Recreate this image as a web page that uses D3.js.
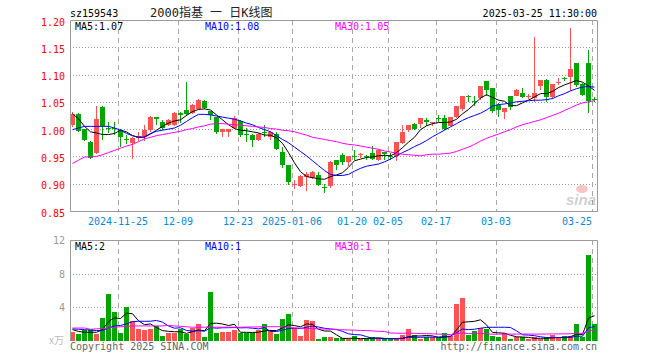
<!DOCTYPE html>
<html>
<head>
<meta charset="utf-8">
<script src="https://cdn.jsdelivr.net/npm/d3@7"></script>
<style>
body { margin: 0; background: #fff; }
svg { display: block; font-family: "DejaVu Sans Mono", "Liberation Mono", monospace; }
</style>
</head>
<body>
<svg id="chart" width="660" height="360"></svg>
<script>
// trading days shown on the chart
const DATES = [
  '2024-11-13','2024-11-14','2024-11-15','2024-11-18','2024-11-19','2024-11-20','2024-11-21','2024-11-22','2024-11-25','2024-11-26','2024-11-27','2024-11-28','2024-11-29',
  '2024-12-02','2024-12-03','2024-12-04','2024-12-05','2024-12-06','2024-12-09','2024-12-10','2024-12-11','2024-12-12','2024-12-13','2024-12-16','2024-12-17','2024-12-18','2024-12-19','2024-12-20','2024-12-23','2024-12-24','2024-12-25','2024-12-26','2024-12-27','2024-12-30','2024-12-31',
  '2025-01-02','2025-01-03','2025-01-06','2025-01-07','2025-01-08','2025-01-09','2025-01-10','2025-01-13','2025-01-14','2025-01-15','2025-01-16','2025-01-17','2025-01-20','2025-01-21','2025-01-22','2025-01-23','2025-01-24','2025-01-27',
  '2025-02-05','2025-02-06','2025-02-07','2025-02-10','2025-02-11','2025-02-12','2025-02-13','2025-02-14','2025-02-17','2025-02-18','2025-02-19','2025-02-20','2025-02-21','2025-02-24','2025-02-25','2025-02-26','2025-02-27','2025-02-28',
  '2025-03-03','2025-03-04','2025-03-05','2025-03-06','2025-03-07','2025-03-10','2025-03-11','2025-03-12','2025-03-13','2025-03-14','2025-03-17','2025-03-18','2025-03-19','2025-03-20','2025-03-21','2025-03-24','2025-03-25'
];

const OPEN = [
  1.008,1.028,1.000,0.977,0.957,1.041,1.003,1.003,0.999,0.982,
  0.975,0.983,0.987,0.998,1.022,1.014,1.008,1.008,1.030,1.035,
  1.029,1.037,1.051,1.033,1.022,0.994,0.995,1.002,1.015,0.992,
  0.989,0.980,0.994,0.985,0.991,0.958,0.934,0.899,0.896,0.913,
  0.910,0.916,0.894,0.896,0.943,0.953,0.940,0.950,0.952,0.951,
  0.956,0.943,0.958,0.951,0.950,0.974,0.998,1.009,1.009,1.017,
  1.011,1.021,1.021,1.006,1.022,1.036,1.061,1.051,1.057,1.088,
  1.075,1.044,1.032,1.060,1.061,1.067,1.060,1.057,1.079,1.090,
  1.058,1.084,1.094,1.096,1.122,1.083,1.122,1.055
];
const HIGH = [
  1.031,1.029,1.001,0.978,1.043,1.042,1.013,1.014,1.000,0.990,
  0.986,0.995,1.008,1.025,1.023,1.017,1.018,1.032,1.032,1.087,
  1.046,1.055,1.053,1.034,1.023,1.001,1.001,1.024,1.017,1.002,
  0.991,0.993,1.008,0.997,0.994,0.967,0.935,0.906,0.916,0.921,
  0.924,0.922,0.900,0.941,0.944,0.956,0.951,0.961,0.956,0.953,
  0.969,0.963,0.958,0.956,0.977,1.008,1.008,1.012,1.020,1.020,
  1.014,1.026,1.026,1.022,1.042,1.061,1.063,1.061,1.079,1.088,
  1.075,1.047,1.039,1.060,1.073,1.075,1.064,1.168,1.090,1.091,
  1.083,1.093,1.096,1.185,1.122,1.084,1.145,1.058
];
const LOW = [
  1.004,0.995,0.978,0.945,0.955,0.980,0.993,0.990,0.967,0.972,
  0.945,0.978,0.978,0.995,1.008,0.999,1.005,1.006,1.011,1.024,
  1.027,1.035,1.036,1.017,0.992,0.986,0.986,1.000,0.985,0.977,
  0.967,0.979,0.985,0.980,0.961,0.928,0.898,0.890,0.894,0.886,
  0.908,0.895,0.883,0.893,0.925,0.934,0.933,0.944,0.947,0.944,
  0.944,0.942,0.944,0.944,0.942,0.973,0.994,0.998,1.002,1.006,
  1.006,1.014,0.999,1.005,1.020,1.034,1.049,1.042,1.053,1.061,
  1.029,1.023,1.018,1.035,1.060,1.057,1.055,1.049,1.072,1.050,
  1.055,1.081,1.089,1.069,1.078,1.060,1.030,1.050
];
const CLOSE = [
  1.028,0.997,0.980,0.947,1.018,1.005,1.001,1.000,0.985,0.980,
  0.984,0.987,0.998,1.022,1.019,1.002,1.017,1.029,1.026,1.028,
  1.044,1.053,1.038,1.026,0.994,1.000,1.000,1.020,0.990,0.989,
  0.980,0.992,0.993,0.995,0.963,0.934,0.904,0.900,0.914,0.918,
  0.922,0.898,0.893,0.939,0.934,0.940,0.951,0.949,0.954,0.949,
  0.945,0.962,0.954,0.950,0.977,0.994,1.008,1.001,1.020,1.014,
  1.014,1.019,1.000,1.022,1.042,1.061,1.059,1.050,1.079,1.071,
  1.034,1.035,1.039,1.041,1.072,1.058,1.061,1.067,1.090,1.058,
  1.083,1.086,1.093,1.110,1.081,1.063,1.052,1.053
];

// moving averages as drawn on the price panel
const MA5 = [
  1.029,1.020,1.006,0.996,0.994,0.991,0.991,0.993,0.999,0.996,
  0.989,0.986,0.986,0.992,0.999,1.006,1.012,1.016,1.018,1.026,
  1.033,1.037,1.038,1.036,1.027,1.018,1.009,1.002,0.999,0.998,
  0.996,0.994,0.990,0.990,0.985,0.975,0.958,0.939,0.923,0.914,
  0.912,0.910,0.909,0.914,0.917,0.921,0.931,0.943,0.946,0.949,
  0.950,0.952,0.953,0.952,0.958,0.967,0.977,0.986,1.000,1.007,
  1.011,1.013,1.013,1.014,1.019,1.029,1.037,1.047,1.058,1.064,
  1.059,1.054,1.052,1.044,1.044,1.049,1.054,1.060,1.066,1.066,
  1.070,1.077,1.082,1.086,1.090,1.087,1.080,1.072
];
const MA10 = [
  1.000,1.003,1.006,1.006,1.006,1.006,1.006,1.003,0.999,0.993,
  0.989,0.986,0.987,0.993,0.997,0.999,1.001,1.003,1.008,1.015,
  1.022,1.028,1.028,1.027,1.025,1.023,1.021,1.019,1.016,1.012,
  1.009,1.004,1.000,0.996,0.989,0.982,0.976,0.968,0.960,0.952,
  0.943,0.934,0.925,0.918,0.916,0.916,0.918,0.924,0.929,0.933,
  0.935,0.937,0.941,0.946,0.952,0.958,0.963,0.969,0.974,0.980,
  0.987,0.993,0.999,1.005,1.011,1.017,1.022,1.026,1.030,1.036,
  1.043,1.046,1.047,1.049,1.051,1.052,1.053,1.054,1.054,1.055,
  1.057,1.062,1.066,1.071,1.075,1.078,1.079,1.078
];
const MA30 = [
  0.938,0.944,0.950,0.950,0.951,0.954,0.958,0.962,0.966,0.970,
  0.973,0.978,0.983,0.986,0.989,0.991,0.993,0.995,0.997,1.000,
  1.002,1.005,1.007,1.010,1.011,1.011,1.010,1.009,1.008,1.007,
  1.006,1.005,1.004,1.002,1.001,0.999,0.998,0.996,0.993,0.990,
  0.986,0.984,0.982,0.980,0.978,0.975,0.973,0.972,0.970,0.968,
  0.966,0.964,0.961,0.959,0.957,0.955,0.954,0.953,0.952,0.954,
  0.955,0.955,0.956,0.957,0.960,0.964,0.968,0.973,0.979,0.984,
  0.988,0.992,0.996,1.000,1.005,1.009,1.012,1.015,1.018,1.022,
  1.026,1.030,1.035,1.040,1.045,1.049,1.051,1.053
];

// volume (万) and its moving averages
const VOLUME = [
  1.1,0.85,1.25,1.4,0.85,2.7,5.6,3.5,1.0,4.0,
  2.4,1.4,1.25,1.4,1.8,0.6,1.0,1.0,1.4,0.85,
  1.6,2.0,0.5,5.8,1.0,1.1,1.1,1.25,1.0,1.0,
  1.0,1.3,2.0,1.3,0.85,2.6,3.2,1.5,0.6,2.5,
  2.4,0.25,0.5,0.5,0.3,0.3,0.25,0.6,0.25,0.4,
  0.45,0.4,0.25,0.25,0.25,0.7,1.4,0.7,0.25,0.5,
  0.5,0.45,0.9,0.6,4.4,5.1,0.7,1.2,1.5,1.4,
  0.6,0.45,1.0,0.25,0.5,0.45,0.25,0.45,0.25,0.5,
  0.7,0.45,0.6,0.6,2.0,0.5,10.2,2.0
];
const VOL_MA5 = [
  1.4,1.2,1.1,1.1,1.09,1.41,2.36,2.81,2.73,3.36,
  3.3,2.46,2.0,2.09,1.65,1.29,1.21,1.16,1.16,0.97,
  1.17,1.37,1.27,2.15,2.18,2.08,1.9,2.05,1.09,1.09,
  1.07,1.11,1.26,1.32,1.29,1.61,1.99,1.89,1.75,2.08,
  2.04,1.45,1.25,1.23,0.79,0.37,0.37,0.39,0.34,0.36,
  0.39,0.42,0.35,0.35,0.32,0.37,0.57,0.66,0.66,0.71,
  0.67,0.48,0.52,0.59,1.37,2.29,2.34,2.4,2.58,1.98,
  1.08,1.03,0.99,0.74,0.56,0.53,0.49,0.38,0.38,0.38,
  0.43,0.47,0.5,0.57,0.87,0.83,2.78,3.06
];
const VOL_MA10 = [
  1.5,1.45,1.4,1.35,1.3,1.3,1.6,1.85,1.9,2.1,
  2.36,2.41,2.4,2.41,2.5,2.3,1.84,1.58,1.63,1.31,
  1.23,1.29,1.22,1.66,1.58,1.63,1.64,1.66,1.62,1.64,
  1.58,1.5,1.66,1.2,1.19,1.34,1.55,1.58,1.54,1.69,
  1.83,1.72,1.57,1.49,1.44,1.2,0.91,0.82,0.79,0.58,
  0.38,0.4,0.37,0.35,0.34,0.38,0.5,0.5,0.5,0.52,
  0.52,0.53,0.59,0.63,1.04,1.48,1.41,1.46,1.58,1.67,
  1.69,1.69,1.7,1.66,1.27,0.8,0.76,0.69,0.56,0.47,
  0.48,0.48,0.44,0.48,0.63,0.63,1.63,1.78
];
const VOL_MA30 = [
  1.6,1.6,1.6,1.45,1.5,1.55,1.6,1.7,1.75,1.8,
  1.85,1.85,1.85,1.85,1.85,1.85,1.9,1.85,1.8,1.75,
  1.7,1.7,1.7,1.7,1.7,1.7,1.7,1.7,1.7,1.72,
  1.72,1.74,1.76,1.76,1.76,1.75,1.67,1.61,1.59,1.54,
  1.54,1.5,1.48,1.45,1.4,1.39,1.37,1.35,1.31,1.3,
  1.26,1.21,1.2,1.01,0.99,0.98,0.99,0.97,0.94,0.93,
  0.91,0.88,0.84,0.82,0.94,1.02,0.94,0.93,0.96,0.92,
  0.86,0.87,0.89,0.88,0.88,0.89,0.89,0.88,0.88,0.89,
  0.9,0.9,0.91,0.92,0.98,0.97,1.27,1.31
];

const PRICE_TICKS = [1.20, 1.15, 1.10, 1.05, 1.00, 0.95, 0.90, 0.85];
const VOL_TICKS = [12, 8, 4];
const X_TICKS = ['2024-11-25','2024-12-09','2024-12-23','2025-01-06','2025-01-20','2025-02-05','2025-02-17','2025-03-03','2025-03-25'];
const X_TICK_LABELS = ['2024-11-25','12-09','12-23','2025-01-06','01-20','02-05','02-17','03-03','03-25'];

const UP = '#ff5353';
const DOWN = '#00a600';
const GRID = '#9a9a9a';

const LEFT = 70, RIGHT = 597;
const P_TOP = 20, P_BOT = 211;
const V_TOP = 240, V_BOT = 341;

const svg = d3.select('#chart');

const x = d3.scaleBand().domain(DATES).range([LEFT, RIGHT]).paddingInner(1 / 6).paddingOuter(0);
const y = d3.scaleLinear().domain([0.85, 1.20]).range([P_BOT, P_TOP]);
const yv = d3.scaleLinear().domain([0, 12]).range([V_BOT, V_TOP]);
const bw = x.bandwidth();

let rows = DATES.map((date, i) => ({
  date: date, open: OPEN[i], high: HIGH[i], low: LOW[i], close: CLOSE[i],
  ma5: MA5[i], ma10: MA10[i], ma30: MA30[i],
  vol: VOLUME[i], vma5: VOL_MA5[i], vma10: VOL_MA10[i], vma30: VOL_MA30[i]
}));
let colorOf = d => d.close >= d.open ? UP : DOWN;

// horizontal dotted grid
let grid = svg.append('g');
PRICE_TICKS.slice(1, -1).forEach(v => {
  grid.append('line').attr('x1', LEFT).attr('x2', RIGHT)
    .attr('y1', Math.round(y(v)) + 0.5).attr('y2', Math.round(y(v)) + 0.5)
    .attr('stroke', GRID).attr('stroke-dasharray', '1,2');
});
VOL_TICKS.slice(1).forEach(v => {
  grid.append('line').attr('x1', LEFT).attr('x2', RIGHT)
    .attr('y1', Math.round(yv(v)) + 0.5).attr('y2', Math.round(yv(v)) + 0.5)
    .attr('stroke', GRID).attr('stroke-dasharray', '1,2');
});
// vertical dashed grid
X_TICKS.forEach(d => {
  let gx = Math.round(x(d)) + 0.5;
  [[P_TOP, P_BOT], [V_TOP, V_BOT]].forEach(([a, b]) => {
    grid.append('line').attr('x1', gx).attr('x2', gx).attr('y1', a).attr('y2', b)
      .attr('stroke', '#a8a8a8').attr('stroke-dasharray', '5,4');
  });
});

// candles
let candles = svg.append('g');
candles.selectAll('rect.wick').data(rows).join('rect').attr('class', 'wick')
  .attr('x', d => x(d.date) + 2)
  .attr('width', 1)
  .attr('y', d => Math.round(y(d.high)))
  .attr('height', d => Math.max(1, Math.round(y(d.low)) - Math.round(y(d.high))))
  .attr('fill', colorOf);
candles.selectAll('rect.body').data(rows).join('rect').attr('class', 'body')
  .attr('x', d => x(d.date))
  .attr('width', bw)
  .attr('y', d => Math.round(y(Math.max(d.open, d.close))))
  .attr('height', d => Math.max(1, Math.round(y(Math.min(d.open, d.close))) - Math.round(y(Math.max(d.open, d.close)))))
  .attr('fill', colorOf);

// volume bars
svg.append('g').selectAll('rect').data(rows).join('rect')
  .attr('x', d => x(d.date))
  .attr('width', bw)
  .attr('y', d => Math.round(yv(d.vol)))
  .attr('height', d => V_BOT - Math.round(yv(d.vol)))
  .attr('fill', colorOf);

// moving average lines
let cx = d => x(d.date) + bw / 2;
let lines = [
  ['ma5', '#000', y], ['ma10', '#0000ff', y], ['ma30', '#ff00ff', y],
  ['vma5', '#000', yv], ['vma10', '#0000ff', yv], ['vma30', '#ff00ff', yv]
];
lines.forEach(([key, color, scale]) => {
  svg.append('path').datum(rows)
    .attr('fill', 'none').attr('stroke', color).attr('stroke-width', 1)
    .attr('d', d3.line().x(cx).y(d => scale(d[key]) + 0.5));
});

// frames
let frame = svg.append('g').attr('fill', 'none').attr('stroke', GRID);
frame.append('path').attr('d', `M${LEFT + 0.5},${P_TOP + 0.5}H${RIGHT + 0.5}V${P_BOT + 0.5}H${LEFT + 0.5}Z`);
frame.append('path').attr('d', `M${LEFT + 0.5},${V_BOT}V${V_TOP + 0.5}H${RIGHT + 0.5}V${V_BOT}`);

// axes
let yAxis = svg.append('g').attr('transform', `translate(${LEFT},0)`)
  .call(d3.axisLeft(y).tickValues(PRICE_TICKS).tickSize(0).tickPadding(5).tickFormat(d3.format('.2f')));
yAxis.select('.domain').remove();
yAxis.selectAll('text').attr('fill', '#ff0000').attr('dy', '0.5em')
  .style('font-size', '10px').style('font-family', '"DejaVu Sans Mono", monospace');

let vAxis = svg.append('g').attr('transform', `translate(${LEFT},0)`)
  .call(d3.axisLeft(yv).tickValues(VOL_TICKS).tickSize(0).tickPadding(5));
vAxis.select('.domain').remove();
vAxis.selectAll('text').attr('fill', '#999').attr('dy', '0.35em')
  .style('font-size', '10px').style('font-family', '"DejaVu Sans Mono", monospace');

let xAxis = svg.append('g').attr('transform', `translate(${-bw / 2},${P_BOT})`)
  .call(d3.axisBottom(x).tickValues(X_TICKS).tickSize(0).tickPadding(7)
    .tickFormat((d, i) => X_TICK_LABELS[i]));
xAxis.select('.domain').remove();
xAxis.selectAll('text').attr('fill', '#0a88d8')
  .style('font-size', '10px').style('font-family', '"DejaVu Sans Mono", monospace');
xAxis.selectAll('.tick:last-of-type text').attr('text-anchor', 'end');

// titles and legends
let txt = (tx, ty, s, color, anchor) => svg.append('text')
  .attr('x', tx).attr('y', ty).attr('fill', color).attr('text-anchor', anchor || 'start')
  .style('font-size', '10px').text(s);

txt(LEFT, 17, 'sz159543', '#000');
svg.append('text').attr('x', 150).attr('y', 17).attr('fill', '#222')
  .style('font-size', '12px').style('font-family', '"DejaVu Sans Mono", "Noto Sans CJK SC", monospace')
  .text('2000指基 一 日K线图');
txt(RIGHT, 17, '2025-03-25 11:30:00', '#000', 'end');

txt(75, 30, 'MA5:1.07', '#000');
txt(205, 30, 'MA10:1.08', '#0000ff');
txt(335, 30, 'MA30:1.05', '#ff00ff');

txt(75, 250, 'MA5:2', '#000');
txt(205, 250, 'MA10:1', '#0000ff');
txt(335, 250, 'MA30:1', '#ff00ff');

svg.append('text').attr('x', 64).attr('y', 344).attr('fill', '#bbb').attr('text-anchor', 'end')
  .style('font-size', '10px').style('font-family', '"Noto Sans CJK SC", sans-serif').text('x万');

txt(LEFT, 350, 'Copyright 2025 SINA.COM', '#666');
txt(RIGHT, 350, 'http://finance.sina.com.cn', '#666', 'end');

// sina watermark
let mark = svg.append('g').attr('opacity', 0.45);
mark.append('ellipse').attr('cx', 582).attr('cy', 189).attr('rx', 6).attr('ry', 4)
  .attr('fill', '#f08080');
mark.append('text').attr('x', 566).attr('y', 205).attr('fill', '#999')
  .style('font-size', '15px').style('font-style', 'italic').style('font-weight', 'bold')
  .style('font-family', 'Arial, "Liberation Sans", sans-serif').text('sina');
</script>
</body>
</html>
